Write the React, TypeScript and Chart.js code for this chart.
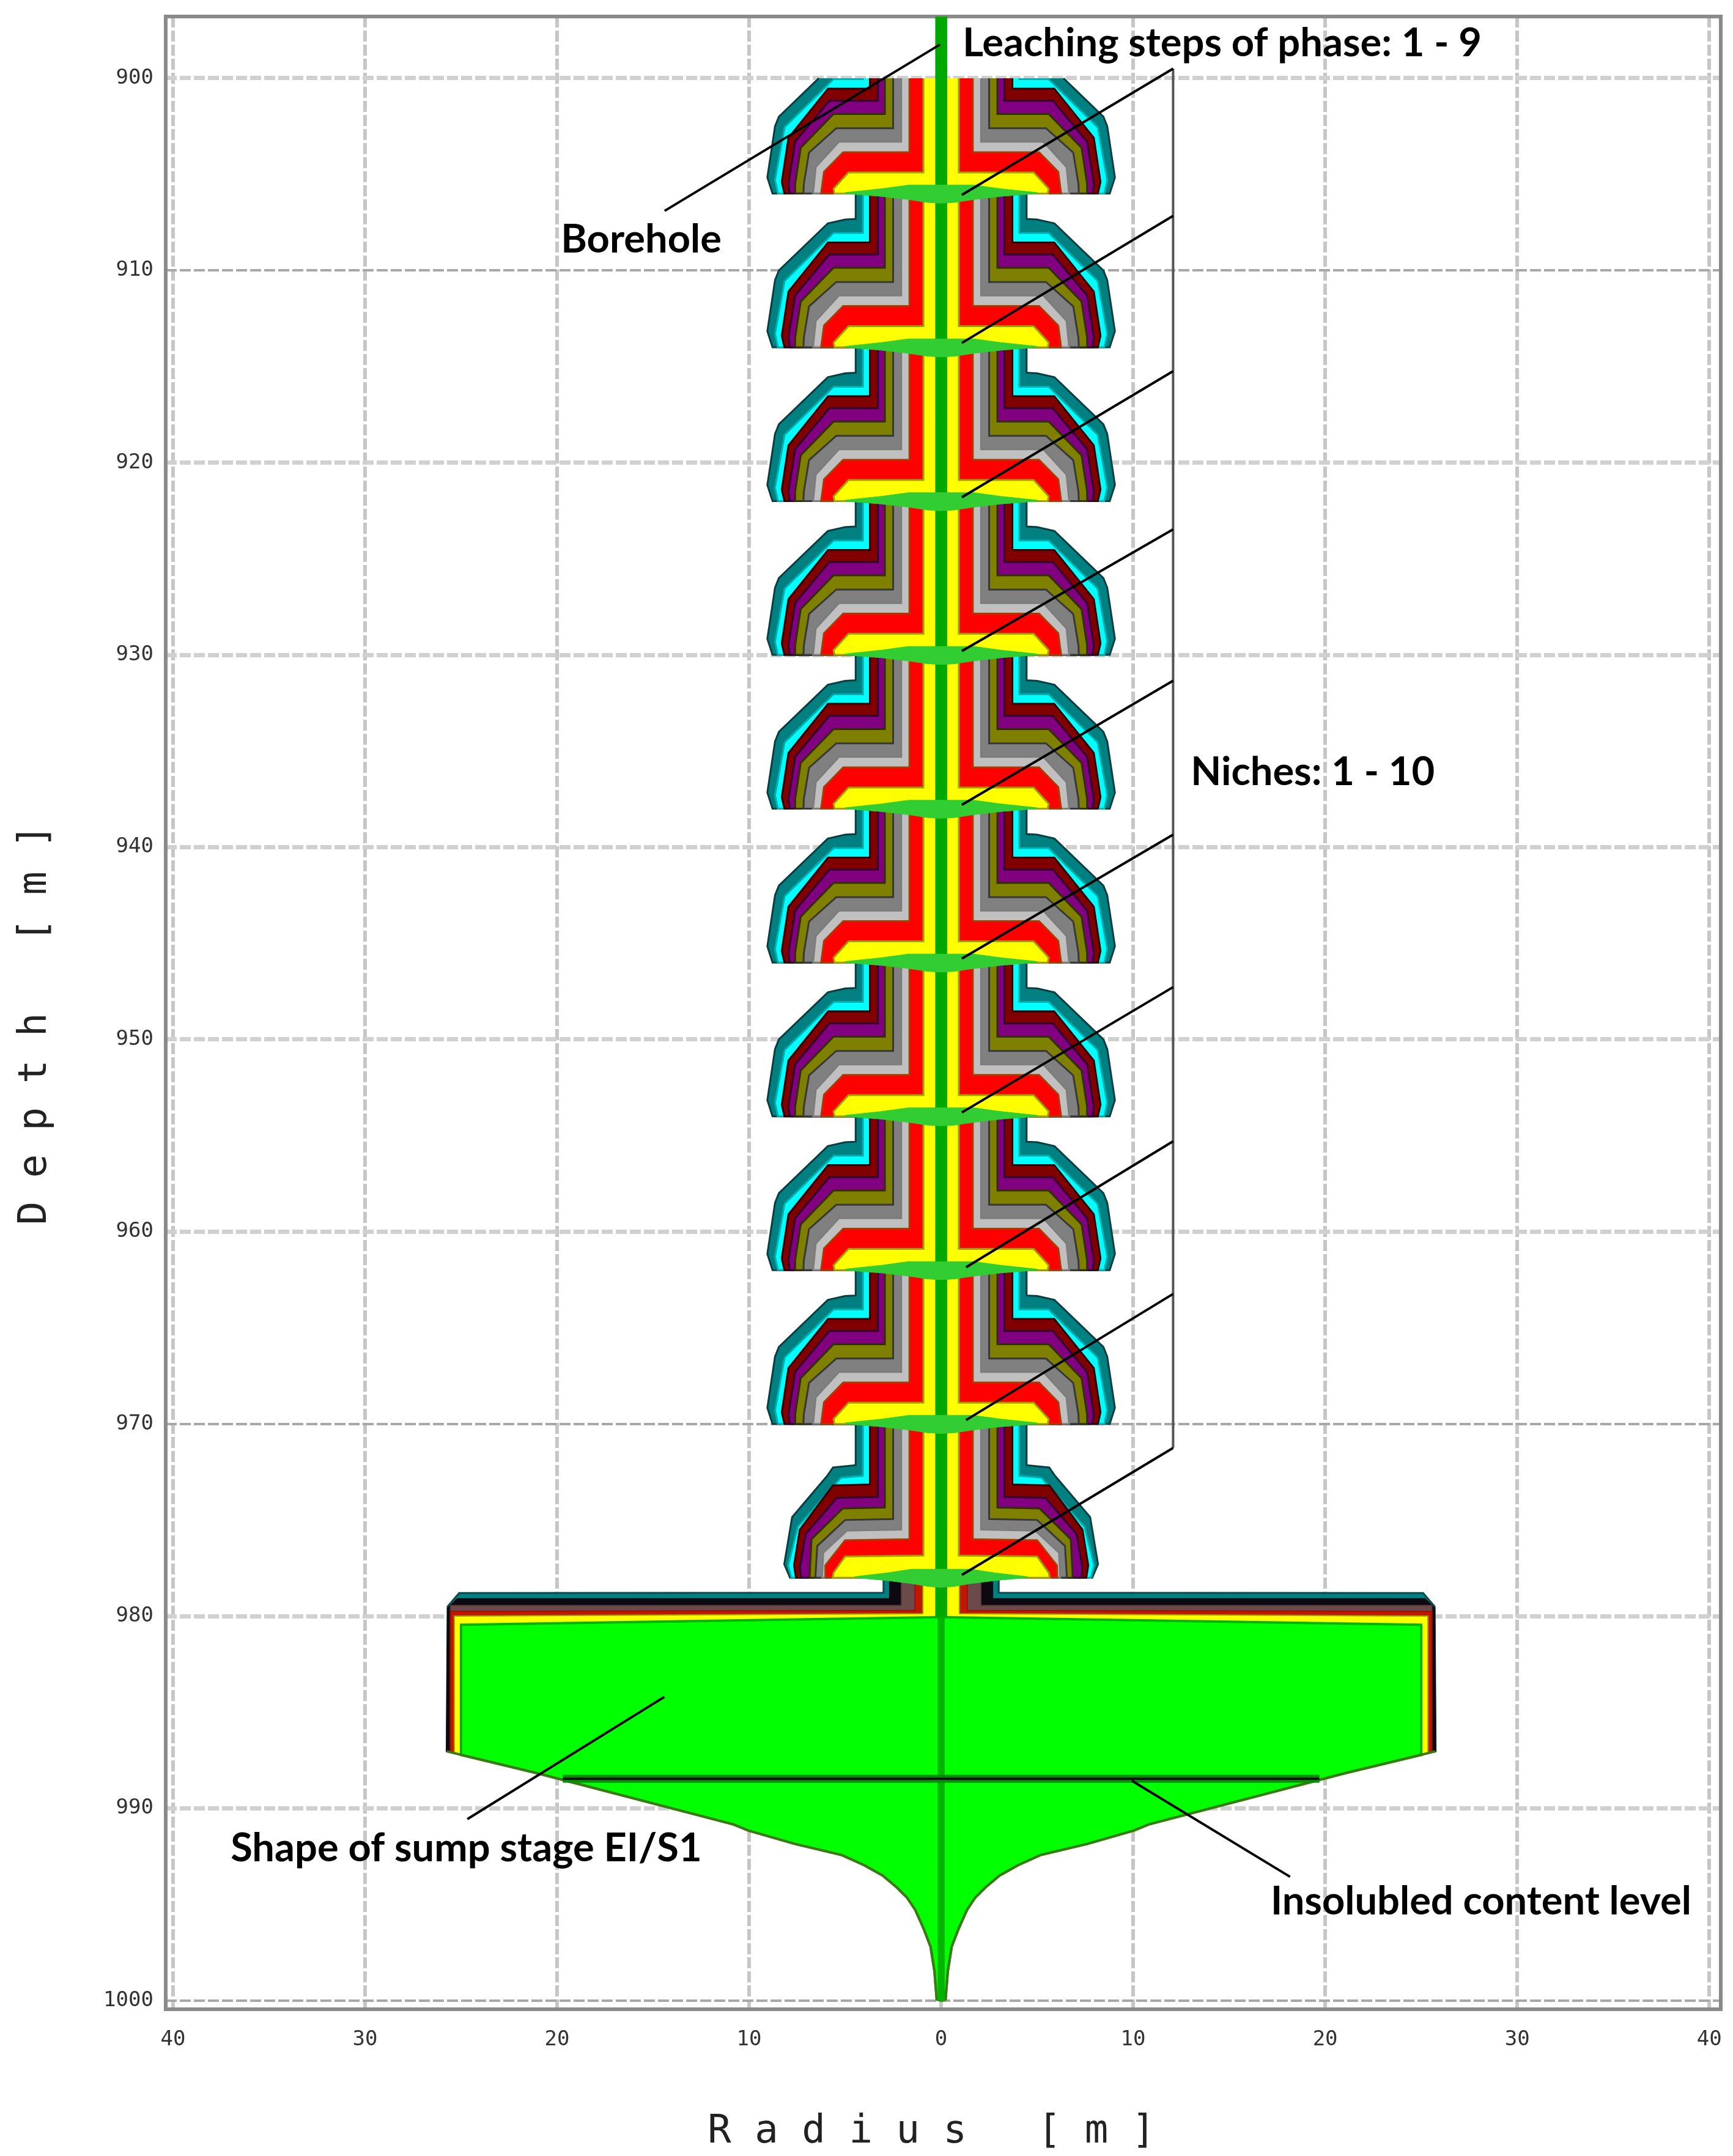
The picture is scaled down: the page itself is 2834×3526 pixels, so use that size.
import { useEffect, useRef } from "react"
import { Chart, registerables } from "chart.js"

Chart.register(...registerables)

type Pt = [number, number]

// Tick labels
const radiusTicks = [-40, -30, -20, -10, 0, 10, 20, 30, 40]
const depthTicks = [900, 910, 920, 930, 940, 950, 960, 970, 980, 990, 1000]
const darkDepthLines = [910, 970, 1000]

// Each niche takes 8 m, the first one is cut off at 900 m
const nicheTops = [898, 906, 914, 922, 930, 938, 946, 954, 962, 970]
const firstNicheCut = 2

// Right half of one niche, [radius, depth below the niche's top], outermost first
const tealProfile: Pt[] = [[4.45, 0], [4.45, 1.32], [5.0, 1.35], [5.9, 1.55], [8.45, 4.0], [8.65, 4.5], [9.05, 7.16], [8.78, 8]]
const cyanProfile: Pt[] = [[4.07, 0], [4.07, 2.05], [5.6, 2.05], [8.15, 4.55], [8.65, 7.3], [8.5, 8]]
const maroonProfile: Pt[] = [[3.71, 0], [3.71, 2.54], [5.89, 2.54], [7.95, 5.1], [8.3, 7.4], [8.16, 8]]
const purpleProfile: Pt[] = [[3.29, 0], [3.29, 3.17], [5.82, 3.17], [7.6, 5.3], [7.95, 7.5], [7.88, 8]]
const oliveProfile: Pt[] = [[2.93, 0], [2.93, 3.86], [5.6, 3.86], [7.31, 5.62], [7.6, 7.5], [7.6, 8]]
const grayProfile: Pt[] = [[2.5, 0], [2.5, 4.6], [5.46, 4.6], [6.88, 5.87], [7.15, 7.5], [7.17, 8]]
const silverProfile: Pt[] = [[2.08, 0], [2.08, 5.3], [5.32, 5.3], [6.53, 6.62], [6.67, 8]]
const redProfile: Pt[] = [[1.65, 0], [1.65, 5.85], [5.1, 5.85], [6.1, 6.87], [6.25, 8]]
const yellowProfile: Pt[] = [[0.92, 0], [0.92, 6.9], [4.82, 6.9], [5.6, 7.75], [5.55, 8]]

// The lowest niche is a little smaller
const lastTeal: Pt[] = [[4.45, 0], [4.45, 2.15], [5.63, 2.27], [5.93, 2.7], [7.76, 4.85], [8.17, 7.3], [7.87, 8]]
const lastCyan: Pt[] = [[4.07, 0], [4.07, 2.7], [5.22, 2.8], [7.46, 5.35], [7.97, 7.36], [7.8, 8]]
const lastMaroon: Pt[] = [[3.71, 0], [3.71, 3.15], [5.63, 3.2], [7.36, 5.5], [7.66, 7.36], [7.56, 8]]
const lastPurple: Pt[] = [[3.29, 0], [3.29, 3.8], [5.43, 3.85], [7.05, 5.73], [7.36, 7.5], [7.3, 8]]
const lastOlive: Pt[] = [[2.93, 0], [2.93, 4.35], [5.12, 4.4], [6.75, 6.0], [6.85, 8]]
const lastGray: Pt[] = [[2.5, 0], [2.5, 4.95], [5.0, 5.0], [6.45, 6.35], [6.55, 8]]
const lastSilver: Pt[] = [[2.08, 0], [2.08, 5.5], [4.9, 5.55], [6.14, 6.7], [6.2, 8]]
const lastRed: Pt[] = [[1.65, 0], [1.65, 6.0], [5.0, 6.05], [6.03, 7.36], [6.05, 8]]
const lastYellow: Pt[] = [[0.92, 0], [0.92, 6.85], [5.0, 6.9], [5.6, 7.74], [5.65, 8]]

// Light green lens at each niche floor, [radius, depth from the floor]
const floorLens: Pt[] = [[0, -0.44], [1.7, -0.44], [3.1, -0.25], [5.0, -0.05], [5.0, 0.0], [3.1, 0.15], [1.7, 0.31], [0.7, 0.46], [0, 0.5]]

// Sump stage, [radius, depth]
const sumpTeal: Pt[] = [[3.0, 978], [3.0, 978.78], [25.1, 978.8], [25.7, 979.5], [25.75, 987.03], [25.0, 987.22]]
const sumpBlack: Pt[] = [[2.68, 978], [2.68, 979.1], [25.2, 979.1], [25.7, 979.6], [25.75, 987.03], [25.0, 987.22]]
const sumpBrown: Pt[] = [[2.07, 978], [2.07, 979.45], [25.55, 979.45], [25.55, 987.08], [25.0, 987.22]]
const sumpRed: Pt[] = [[1.36, 978], [1.36, 979.7], [25.55, 979.75], [25.55, 987.08], [25.0, 987.22]]
const sumpYellow: Pt[] = [[0.95, 978], [0.95, 979.87], [25.35, 980.0], [25.35, 987.12], [25.0, 987.22]]
const sumpTop: Pt[] = [[0, 980.05], [25.0, 980.45]]
const sumpSide: Pt[] = [[25.0, 987.22]]
const sumpCurve: Pt[] = [[20.97, 988.19], [10.8, 990.84], [10.05, 991.15], [7.61, 991.85], [5.17, 992.43], [4.0, 992.96], [3.05, 993.49], [2.3, 994.12], [1.77, 994.65], [1.35, 995.28], [0.92, 996.24], [0.55, 997.2], [0.35, 998.46], [0.23, 999.94], [0, 1000]]
const sumpCorner: Pt[] = [[25.75, 987.03]]

// Borehole
const boreholeUpper: Pt[] = [[0.29, 896.79], [0.29, 980.05]]
const boreholeLower: Pt[] = [[0.16, 980.05], [0.16, 1000]]

// Insoluble level and call-out lines, [radius, depth]
const insolubleRadius = 19.7
const insolubleDepth = 988.46
const bracketRadius = 12.08
const bracketDepths = [899.5, 971.25]
const leaderStartRadius = [1.08, 1.08, 1.08, 1.08, 1.08, 1.08, 1.08, 1.3, 1.3, 1.08]
const leaderStartDepth = [906.07, 913.77, 921.8, 929.8, 937.8, 945.8, 953.8, 961.85, 969.8, 977.86]
const leaderEndDepth = [899.5, 907.16, 915.24, 923.47, 931.34, 939.35, 947.28, 955.3, 963.24, 971.25]
const boreholeLeader: Pt[] = [[-0.06, 898.25], [-14.4, 906.9]]
const sumpLeader: Pt[] = [[-14.41, 984.2], [-24.67, 990.56]]
const insolubleLeader: Pt[] = [[9.93, 988.56], [18.17, 993.56]]

// Text call-outs
const calloutText = ["Leaching steps of phase: 1 - 9", "Borehole", "Niches: 1 - 10", "Shape of sump stage EI/S1", "Insolubled content level"]
const calloutRadius = [1.12, -19.8, 13.0, -37.0, 17.16]
const calloutDepth = [898.2, 908.4, 936.1, 992.1, 994.86]

const layerFill = ["#008080", "#00ffff", "#800000", "#800080", "#808000", "#808080", "#c0c0c0", "#ff0000", "#ffff00"]
const layerEdge = ["#0a3c40", "#00b0b0", "#300000", "#300030", "#303000", "#383838", "#7c7c7c", "#a83c00", "#a0a000"]

const toXY = (pts: Pt[]) => pts.map(([x, y]) => ({ x, y }))

// Closes a right-hand profile with its mirror image
const mirrored = (profile: Pt[]) => {
  const left = [...profile].reverse().map(([r, d]) => [-r, d] as Pt)
  return toXY([...profile, ...left])
}

const shape = (data: { x: number; y: number }[], fill: string, edge: string, edgeWidth: number) => ({
  data,
  showLine: true,
  fill: "shape",
  backgroundColor: fill,
  borderColor: edge,
  borderWidth: edgeWidth,
  pointRadius: 0,
  tension: 0,
})

const stroke = (pts: Pt[], color: string, width: number) => ({
  data: toXY(pts),
  showLine: true,
  fill: false,
  borderColor: color,
  borderWidth: width,
  pointRadius: 0,
  tension: 0,
})

// Cuts the profile of the first niche off at the top of the cavern
const cutProfile = (profile: Pt[], cut: number) => {
  const out: Pt[] = []
  for (let i = 1; i < profile.length; i++) {
    const [r0, d0] = profile[i - 1]
    const [r1, d1] = profile[i]
    if (d1 <= cut) continue
    if (out.length === 0) {
      const t = d1 === d0 ? 0 : (cut - d0) / (d1 - d0)
      out.push([r0 + (r1 - r0) * t, cut])
    }
    out.push([r1, d1])
  }
  return out
}

const shifted = (profile: Pt[], by: number) => profile.map(([r, d]) => [r, d + by] as Pt)

const buildDatasets = () => {
  const regular = [tealProfile, cyanProfile, maroonProfile, purpleProfile, oliveProfile, grayProfile, silverProfile, redProfile, yellowProfile]
  const last = [lastTeal, lastCyan, lastMaroon, lastPurple, lastOlive, lastGray, lastSilver, lastRed, lastYellow]
  const paint: any[] = []

  // Sump first, the niche floor overlaps its neck
  paint.push(shape(mirrored(sumpTeal), "#008080", "#10484c", 3))
  paint.push(shape(mirrored(sumpBlack), "#0c0a10", "#0c0a10", 2))
  paint.push(shape(mirrored(sumpBrown), "#6a4a4a", "#5a3a3a", 2))
  paint.push(shape(mirrored(sumpRed), "#c01800", "#a01000", 2))
  paint.push(shape(mirrored(sumpYellow), "#ffff00", "#a0a000", 2))
  paint.push(shape(mirrored([...sumpTop, ...sumpSide, ...sumpCurve]), "#00ff00", "#00b400", 4))
  const lowerEdge = [...sumpCorner, ...sumpCurve]
  paint.push(stroke(lowerEdge, "#3a7a10", 4))
  paint.push(stroke(lowerEdge.map(([r, d]) => [-r, d] as Pt), "#3a7a10", 4))

  nicheTops.forEach((top, i) => {
    const profiles = i === nicheTops.length - 1 ? last : regular
    profiles.forEach((profile, k) => {
      const p = i === 0 ? cutProfile(profile, firstNicheCut) : profile
      paint.push(shape(mirrored(shifted(p, top)), layerFill[k], layerEdge[k], 3))
    })
  })

  paint.push(shape(mirrored(boreholeUpper), "#00a800", "#00a800", 1))
  nicheTops.forEach((top, i) => {
    const floor = top + 8
    const widthRatio = i === nicheTops.length - 1 ? 0.9 : 1
    paint.push(shape(mirrored(floorLens.map(([r, d]) => [r * widthRatio, d + floor] as Pt)), "#32cd32", "#32cd32", 1))
  })
  paint.push(shape(mirrored(boreholeLower), "#00b400", "#00b400", 1))

  paint.push(stroke([[-insolubleRadius, insolubleDepth], [insolubleRadius, insolubleDepth]], "#009000", 13))
  paint.push(stroke([[-insolubleRadius, insolubleDepth], [insolubleRadius, insolubleDepth]], "#001000", 4))

  paint.push(stroke([[bracketRadius, bracketDepths[0]], [bracketRadius, bracketDepths[1]]], "#555555", 4))
  leaderStartDepth.forEach((d, i) => {
    paint.push(stroke([[leaderStartRadius[i], d], [bracketRadius, leaderEndDepth[i]]], "#000000", 4))
  })
  paint.push(stroke(boreholeLeader, "#000000", 4))
  paint.push(stroke(sumpLeader, "#000000", 4))
  paint.push(stroke(insolubleLeader, "#000000", 4))

  // Chart.js paints the first dataset last
  return paint.reverse()
}

const framePlugin = {
  id: "frame",
  beforeDatasetsDraw(chart: any) {
    const { ctx, chartArea: a } = chart
    ctx.save()
    ctx.strokeStyle = "#8a8a8a"
    ctx.lineWidth = 6
    ctx.strokeRect(a.left, a.top, a.right - a.left, a.bottom - a.top)
    ctx.restore()
  },
}

const calloutPlugin = {
  id: "callouts",
  afterDatasetsDraw(chart: any) {
    const { ctx, scales } = chart
    ctx.save()
    ctx.fillStyle = "#000000"
    ctx.font = "bold 65px Lato"
    ctx.textAlign = "left"
    ctx.textBaseline = "middle"
    calloutText.forEach((t, i) => {
      ctx.fillText(t, scales.x.getPixelForValue(calloutRadius[i]), scales.y.getPixelForValue(calloutDepth[i]))
    })
    ctx.restore()
  },
}

export default function App() {
  const chartRef = useRef<HTMLCanvasElement>(null)

  useEffect(() => {
    if (!chartRef.current) return
    const ctx = chartRef.current.getContext("2d")
    if (!ctx) return

    const chart = new Chart(ctx, {
      type: "scatter",
      data: { datasets: buildDatasets() },
      plugins: [framePlugin, calloutPlugin],
      options: {
        animation: false,
        responsive: false,
        devicePixelRatio: 1,
        layout: { padding: { top: 27, right: 20, left: 0, bottom: 0 } },
        plugins: { legend: { display: false }, tooltip: { enabled: false } },
        scales: {
          x: {
            type: "linear",
            min: -40.38,
            max: 40.6,
            afterFit: (s: any) => {
              s.height = 240
              s.paddingLeft = 0
              s.paddingRight = 0
            },
            afterBuildTicks: (s: any) => { s.ticks = radiusTicks.map((value) => ({ value })) },
            grid: { color: "#c6c6c6", lineWidth: 6, drawTicks: false },
            border: { display: false, dash: [18, 5] },
            ticks: {
              autoSkip: false,
              padding: 30,
              maxRotation: 0,
              color: "#333333",
              font: { family: "DejaVu Sans Mono", size: 34 },
              callback: (v: any) => String(Math.abs(v)),
            },
            title: {
              display: true,
              text: "R a d i u s   [ m ] ",
              color: "#222222",
              font: { family: "DejaVu Sans Mono", size: 64 },
              padding: { top: 55, bottom: 0 },
            },
          },
          y: {
            type: "linear",
            reverse: true,
            min: 896.79,
            max: 1000.45,
            afterFit: (s: any) => {
              s.width = 271
              s.paddingTop = 0
              s.paddingBottom = 0
            },
            afterBuildTicks: (s: any) => { s.ticks = depthTicks.map((value) => ({ value })) },
            grid: {
              drawTicks: false,
              color: (c: any) => (darkDepthLines.includes(c.tick?.value) ? "#a8a8a8" : "#d0d0d0"),
              lineWidth: (c: any) => (darkDepthLines.includes(c.tick?.value) ? 4 : 7),
            },
            border: { display: false, dash: [18, 5] },
            ticks: {
              autoSkip: false,
              padding: 20,
              color: "#333333",
              font: { family: "DejaVu Sans Mono", size: 34 },
              callback: (v: any) => String(v),
            },
            title: {
              display: true,
              text: "D e p t h   [ m ] ",
              color: "#222222",
              font: { family: "DejaVu Sans Mono", size: 64 },
              padding: { top: 20, bottom: 0 },
            },
          },
        },
      },
    })

    return () => chart.destroy()
  }, [])

  return (
    <div style={{ position: "absolute", left: 0, top: 0, width: 2834, height: 3526, background: "#ffffff" }}>
      <canvas ref={chartRef} width={2834} height={3526} />
    </div>
  )
}
